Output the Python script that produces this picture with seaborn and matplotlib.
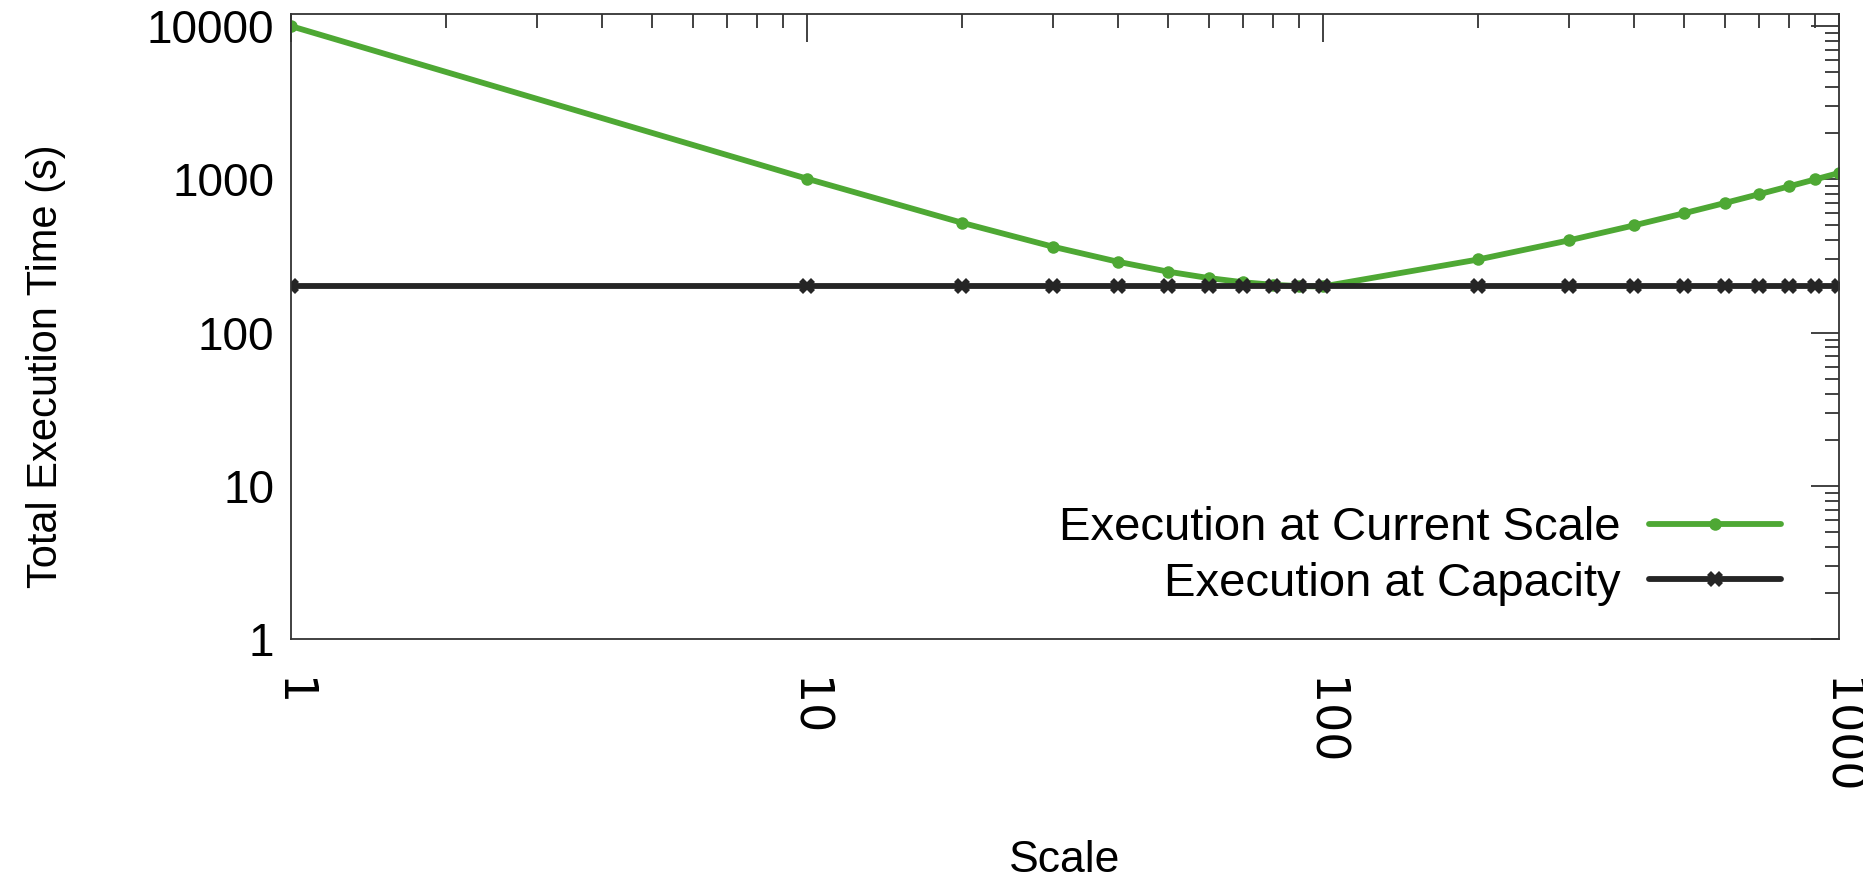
import pandas as pd
import matplotlib.pyplot as plt
import matplotlib.ticker as mticker
import seaborn as sns

# data
scale = [1, 10, 20, 30, 40, 50, 60, 70, 80, 90, 100,
         200, 300, 400, 500, 600, 700, 800, 900, 1000]
current_time = [10000, 1010, 520, 363, 290, 250, 227, 213, 205, 201, 200,
                300, 400, 500, 600, 700, 800, 900, 1000, 1100]
capacity_time = [200] * len(scale)

series_names = ["Execution at Current Scale", "Execution at Capacity"]
colors = ["#4ea834", "#252525"]

df = pd.concat([
    pd.DataFrame({"Scale": scale, "Time": current_time, "series": series_names[0]}),
    pd.DataFrame({"Scale": scale, "Time": capacity_time, "series": series_names[1]}),
])

sns.set_style("white")
plt.rcParams["font.family"] = ["Liberation Sans", "DejaVu Sans"]
plt.rcParams["text.color"] = "black"
plt.rcParams["axes.labelcolor"] = "black"
plt.rcParams["xtick.color"] = "black"
plt.rcParams["ytick.color"] = "black"

fig = plt.figure(figsize=(18.63, 8.90), dpi=100)
ax = fig.add_axes([291 / 1863, 1 - 639 / 890, 1548 / 1863, 625 / 890])

sns.lineplot(data=df, x="Scale", y="Time", hue="series", style="series",
             palette=dict(zip(series_names, colors)),
             markers={series_names[0]: "o", series_names[1]: "X"},
             dashes=False, linewidth=4.2, markersize=9, markeredgewidth=0,
             ax=ax)
# capacity markers drawn a bit bigger, like the reference
ax.lines[1].set_markersize(11)

ax.set_xscale("log")
ax.set_yscale("log")
ax.set_xlim(1, 1000)
ax.set_ylim(1, 12000)

plain = mticker.FuncFormatter(lambda v, p: f"{v:g}")
ax.xaxis.set_major_locator(mticker.FixedLocator([1, 10, 100, 1000]))
ax.yaxis.set_major_locator(mticker.FixedLocator([1, 10, 100, 1000, 10000]))
ax.xaxis.set_major_formatter(plain)
ax.yaxis.set_major_formatter(plain)
ax.xaxis.set_minor_locator(mticker.LogLocator(subs=range(2, 10), numticks=20))
ax.yaxis.set_minor_locator(mticker.LogLocator(subs=range(2, 10), numticks=20))
ax.xaxis.set_minor_formatter(mticker.NullFormatter())
ax.yaxis.set_minor_formatter(mticker.NullFormatter())

ax.tick_params(which="both", direction="in", top=True, right=True,
               color="#333333", width=1.3)
ax.tick_params(which="major", length=20)
ax.tick_params(which="minor", length=10)
ax.tick_params(axis="y", labelsize=33, pad=12)
ax.tick_params(axis="x", labelsize=33, pad=28, labelrotation=-90)
for lab in ax.get_xticklabels():
    lab.set_fontfamily("DejaVu Sans")

for sp in ax.spines.values():
    sp.set_color("#333333")
    sp.set_linewidth(1.3)

ax.set_xlabel("Scale", fontsize=32)
ax.set_ylabel("Total Execution Time (s)", fontsize=30)
ax.xaxis.set_label_coords(0.5, -0.322)
ax.yaxis.set_label_coords(-0.158, 0.437)
ax.yaxis.label.set_va("center")

leg = ax.legend(loc="lower right", bbox_to_anchor=(0.99, -0.015), frameon=False,
                fontsize=34, markerfirst=False, handlelength=2.8,
                labelspacing=0.25, handletextpad=0.6)
leg.legend_handles[1].set_markersize(11)

fig.savefig("out.png", dpi=100)
